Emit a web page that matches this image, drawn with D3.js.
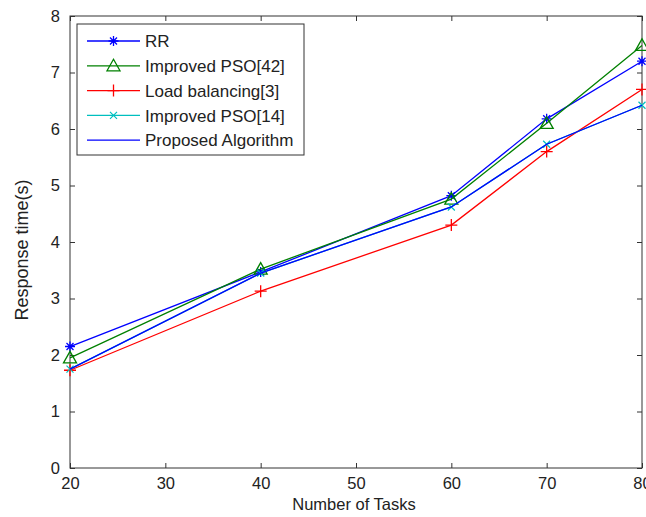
<!DOCTYPE html>
<html>
<head>
<meta charset="utf-8">
<title>Response time</title>
<style>
  body { margin: 0; background: #fff; }
  svg text { font-family: "Liberation Sans", Arial, sans-serif; fill: #222; }
</style>
</head>
<body>
<div id="chart"></div>
<script src="https://d3js.org/d3.v7.min.js"></script>
<script>
// data
const tasks = [20, 40, 60, 70, 80];
const rr = [2.15, 3.47, 4.82, 6.18, 7.20];
const pso42 = [1.95, 3.52, 4.76, 6.10, 7.48];
const loadBal = [1.73, 3.13, 4.30, 5.60, 6.70];
const pso14 = [1.75, 3.45, 4.62, 5.73, 6.42];
const proposed = [1.75, 3.45, 4.62, 5.73, 6.42];
const xTicks = [20, 30, 40, 50, 60, 70, 80];
const yTicks = [0, 1, 2, 3, 4, 5, 6, 7, 8];

const series = [
  { name: "RR", values: rr, color: "#0000ff", marker: "star" },
  { name: "Improved PSO[42]", values: pso42, color: "#008000", marker: "tri" },
  { name: "Load balancing[3]", values: loadBal, color: "#ff0000", marker: "plus" },
  { name: "Improved PSO[14]", values: pso14, color: "#00bfbf", marker: "cross" },
  { name: "Proposed Algorithm", values: proposed, color: "#0000ff", marker: null }
];

const W = 646, H = 517;
const m = { left: 70, right: 4, top: 16, bottom: 49 };

const svg = d3.select("#chart").append("svg")
  .attr("width", W).attr("height", H);

const x = d3.scaleLinear().domain([20, 80]).range([m.left, W - m.right]);
const y = d3.scaleLinear().domain([0, 8]).range([H - m.bottom, m.top]);

// box
svg.append("rect")
  .attr("x", x(20)).attr("y", y(8))
  .attr("width", x(80) - x(20)).attr("height", y(0) - y(8))
  .attr("fill", "none").attr("stroke", "#333").attr("stroke-width", 1);

// axes (ticks point inward, MATLAB style)
const tk = 5;
const axB = svg.append("g").attr("transform", `translate(0,${y(0)})`)
  .call(d3.axisBottom(x).tickValues(xTicks).tickSize(-tk).tickPadding(9));
const axT = svg.append("g").attr("transform", `translate(0,${y(8)})`)
  .call(d3.axisTop(x).tickValues(xTicks).tickSize(-tk).tickFormat(""));
const axL = svg.append("g").attr("transform", `translate(${x(20)},0)`)
  .call(d3.axisLeft(y).tickValues(yTicks).tickSize(-tk).tickPadding(10));
const axR = svg.append("g").attr("transform", `translate(${x(80)},0)`)
  .call(d3.axisRight(y).tickValues(yTicks).tickSize(-tk).tickFormat(""));

[axB, axT, axL, axR].forEach(a => {
  a.select(".domain").remove();
  a.selectAll(".tick line").attr("stroke", "#333");
  a.selectAll("text").style("font-size", "16.5px").attr("fill", "#222");
});
axB.selectAll(".tick text").attr("dy", "0.75em");

// lines
const line = d3.line().x((d, i) => x(tasks[i])).y(d => y(d));

function drawMarker(g, type, color) {
  const s = 5;
  if (type === "star") {
    const p = g.append("path")
      .attr("d", `M${-s},0L${s},0M0,${-s}L0,${s}M${-s*0.7},${-s*0.7}L${s*0.7},${s*0.7}M${-s*0.7},${s*0.7}L${s*0.7},${-s*0.7}`);
    p.attr("stroke", color).attr("stroke-width", 1.3).attr("fill", "none");
  } else if (type === "tri") {
    g.append("path").attr("d", `M0,-6.5L6.5,5L-6.5,5Z`)
      .attr("stroke", color).attr("stroke-width", 1.3).attr("fill", "none");
  } else if (type === "plus") {
    g.append("path").attr("d", `M-6,0L6,0M0,-6L0,6`)
      .attr("stroke", color).attr("stroke-width", 1.3).attr("fill", "none");
  } else if (type === "cross") {
    g.append("path").attr("d", `M-3.5,-3.5L3.5,3.5M-3.5,3.5L3.5,-3.5`)
      .attr("stroke", color).attr("stroke-width", 1.2).attr("fill", "none");
  }
}

series.forEach(s => {
  const g = svg.append("g");
  g.append("path")
    .attr("d", line(s.values))
    .attr("fill", "none").attr("stroke", s.color).attr("stroke-width", 1.3);
  if (s.marker) {
    s.values.forEach((v, i) => {
      const mg = g.append("g").attr("transform", `translate(${x(tasks[i])},${y(v)})`);
      drawMarker(mg, s.marker, s.color);
    });
  }
});

// legend
const lg = svg.append("g");
lg.append("rect")
  .attr("x", 77).attr("y", 24).attr("width", 227).attr("height", 131)
  .attr("fill", "#fff").attr("stroke", "#333").attr("stroke-width", 1);
series.forEach((s, i) => {
  const ly = 41 + i * 24.8;
  lg.append("line")
    .attr("x1", 87).attr("x2", 140).attr("y1", ly).attr("y2", ly)
    .attr("stroke", s.color).attr("stroke-width", 1.3);
  if (s.marker) {
    const mg = lg.append("g").attr("transform", `translate(113.5,${ly})`);
    drawMarker(mg, s.marker, s.color);
  }
  lg.append("text")
    .attr("x", 145).attr("y", ly).attr("dy", "0.36em")
    .style("font-size", "17px")
    .text(s.name);
});

// axis titles
svg.append("text")
  .attr("x", (x(20) + x(80)) / 2 - 2).attr("y", 510)
  .attr("text-anchor", "middle")
  .style("font-size", "16.5px")
  .text("Number of Tasks");

svg.append("text")
  .attr("transform", `translate(28,250) rotate(-90)`)
  .attr("text-anchor", "middle")
  .style("font-size", "18px")
  .text("Response time(s)");
</script>
</body>
</html>
